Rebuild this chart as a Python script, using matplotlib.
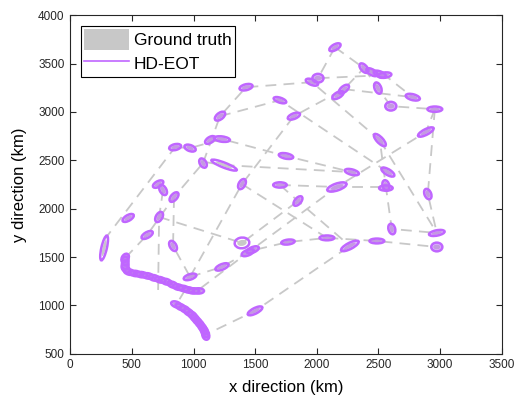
import matplotlib
matplotlib.use('Agg')
import matplotlib.pyplot as plt
from matplotlib.patches import Ellipse, Patch
from matplotlib.lines import Line2D

plt.rcParams['font.family'] = ['Liberation Sans', 'DejaVu Sans']

# ground truth tracks (km)
tracks = [
    [(275, 1676), (851, 2636)],
    [(851, 2636), (972, 2626), (1231, 2719), (1750, 2544), (2284, 2378)],
    [(1077, 2471), (1215, 2956), (1426, 3255), (1960, 3307), (2511, 2709), (2560, 2223), (2608, 1790), (2973, 1749)],
    [(972, 1295), (1393, 2254), (1814, 2956), (2220, 3235), (2382, 3452)],
    [(1215, 2956), (1701, 3121), (2576, 2378)],
    [(2147, 3668), (2382, 3452), (2550, 3380), (2778, 3152)],
    [(2147, 3668), (2009, 3348), (2550, 3380)],
    [(2382, 3452), (2495, 3246), (2600, 3059), (2957, 3028), (2884, 2792), (2163, 2224), (1458, 1563), (1029, 1150)],
    [(2220, 3235), (2778, 3152)],
    [(1100, 2480), (1248, 2450), (2284, 2378)],
    [(1701, 2245), (2163, 2224), (2560, 2224)],
    [(1701, 2245), (1847, 2079), (2268, 1615)],
    [(1393, 2254), (2082, 1698)],
    [(972, 1295), (1231, 1398), (1458, 1563), (1766, 1655), (2082, 1698), (2487, 1666), (2973, 1604)],
    [(721, 1914), (1393, 1646), (1847, 2079)],
    [(753, 2193), (721, 1914), (713, 1160)],
    [(446, 1491), (624, 1728), (842, 2120), (1077, 2471)],
    [(842, 2120), (834, 1615), (972, 1295)],
    [(446, 1491), (446, 1388), (486, 1336), (648, 1295), (770, 1243), (875, 1181), (932, 1171), (972, 1150), (1029, 1150)],
    [(932, 1160), (859, 1006), (940, 954), (1004, 882), (1085, 748), (1102, 700), (1499, 944), (2268, 1615)],
    [(2957, 3028), (2900, 2151), (2973, 1749)],
    [(2511, 2709), (2973, 1749)],
]

# estimated extents: x, y, width, height, angle
est_x = [2147, 2009, 1960, 1426, 1701, 1215, 1814, 2171, 2220, 2382, 2447, 2511, 2550, 2495,
         2778, 2600, 2957, 2884, 2511, 851, 972, 1134, 1231, 1077, 1248, 1750, 2284, 2576,
         713, 753, 842, 1393, 1701, 2163, 2560, 2560, 2900, 470, 721, 624, 834, 275, 446,
         1393, 1440, 1480, 1766, 2082, 2268, 2487, 2608, 2973, 2973, 1231, 972, 1499, 1847,
         446, 446, 450, 480, 530, 580, 630, 680, 730, 780, 830, 875, 920, 960, 1000, 1040,
         860, 895, 930, 960, 990, 1010, 1030, 1050, 1070, 1085, 1095, 1100]
est_y = [3668, 3348, 3307, 3255, 3121, 2956, 2956, 3173, 3235, 3452, 3410, 3390, 3380, 3246,
         3152, 3059, 3028, 2792, 2709, 2636, 2626, 2710, 2719, 2471, 2450, 2544, 2378, 2378,
         2254, 2193, 2120, 2254, 2245, 2224, 2240, 2213, 2151, 1904, 1914, 1728, 1615, 1594, 1491,
         1646, 1545, 1575, 1655, 1698, 1615, 1666, 1790, 1749, 1604, 1398, 1295, 944, 2079,
         1460, 1420, 1380, 1345, 1330, 1318, 1305, 1285, 1265, 1245, 1215, 1190, 1175, 1160, 1150, 1150,
         1010, 985, 960, 930, 900, 870, 840, 810, 775, 745, 715, 690]
est_w = [110, 90, 110, 110, 110, 110, 110, 110, 110, 110, 110, 110, 110, 120,
         120, 90, 120, 150, 150, 100, 100, 100, 130, 100, 230, 120, 120, 130,
         100, 110, 110, 110, 110, 170, 110, 110, 110, 110, 110, 110, 110, 260, 90,
         120, 110, 110, 110, 120, 170, 120, 110, 130, 90, 120, 110, 140, 110,
         90, 90, 90, 90, 90, 90, 90, 90, 90, 90, 90, 90, 90, 90, 90, 90,
         90, 90, 90, 90, 90, 90, 90, 90, 90, 90, 90, 90]
est_h = [55, 90, 55, 60, 50, 60, 55, 55, 55, 55, 55, 55, 55, 55,
         60, 90, 55, 55, 55, 60, 60, 55, 55, 55, 50, 55, 55, 55,
         55, 55, 55, 55, 55, 70, 55, 55, 55, 55, 55, 55, 55, 45, 55,
         110, 55, 55, 50, 50, 60, 50, 55, 55, 90, 55, 55, 55, 55,
         55, 55, 55, 55, 55, 55, 55, 55, 55, 55, 55, 55, 55, 55, 55, 55,
         55, 55, 55, 55, 55, 55, 55, 55, 55, 55, 55, 55]
est_a = [40, 0, -30, 20, -25, 50, 30, 40, 50, -60, -40, -30, 10, -75,
         -20, 0, 0, 35, -55, 20, -30, 45, -10, -70, -27, -15, -20, -40,
         40, -70, 60, 70, 0, 25, -80, 0, -75, 40, 70, 40, -70, 80, 70,
         20, 30, 30, 10, 0, 35, 0, -80, 15, 0, 30, 25, 35, 60,
         -90, -90, -60, -20, -10, -10, -15, -20, -20, -25, -30, -20, -15, -10, 0, 0,
         -30, -35, -40, -45, -50, -55, -55, -60, -65, -70, -75, -80]

purple = '#c066ff'
gray = '#c8c8c8'

fig = plt.figure(figsize=(5.2, 3.98), dpi=100)
ax = fig.add_axes([0.135, 0.111, 0.83, 0.851])

for tr in tracks:
    xs = [p[0] for p in tr]
    ys = [p[1] for p in tr]
    ax.plot(xs, ys, '--', color=gray, lw=1.3, dashes=(6, 4), zorder=1)

for x, y, w, h, a in zip(est_x, est_y, est_w, est_h, est_a):
    big = w > 200 or h > 100
    ax.add_patch(Ellipse((x, y), w * 0.65, h * 0.55, angle=a, facecolor=gray,
                         edgecolor='none', zorder=2))
    ax.add_patch(Ellipse((x, y), w, h, angle=a,
                         facecolor='none' if big else (0.75, 0.4, 1.0, 0.45),
                         edgecolor=purple, lw=1.8, zorder=3))

ax.set_xlim(0, 3500)
ax.set_ylim(500, 4000)
ax.set_xticks(range(0, 3501, 500))
ax.set_yticks(range(500, 4001, 500))
ax.tick_params(direction='in', top=True, right=True, labelsize=8.5, length=4,
               color='#262626', labelcolor='#262626', pad=4)
for s in ax.spines.values():
    s.set_color('#262626')
    s.set_linewidth(0.8)
ax.set_xlabel('x direction (km)', fontsize=12, labelpad=6)
ax.set_ylabel('y direction (km)', fontsize=12, labelpad=8)

handles = [Patch(facecolor=gray, edgecolor='none'),
           Line2D([], [], color=purple, lw=1.2)]
leg = ax.legend(handles, ['Ground truth', 'HD-EOT'], loc='upper left',
                fontsize=12.5, fancybox=False, framealpha=1, edgecolor='black',
                borderpad=0.2, handlelength=2.6, handleheight=1.5, handletextpad=0.25,
                labelspacing=0.15, borderaxespad=0.6)
leg.get_frame().set_linewidth(0.8)

fig.savefig('out.png', dpi=100)
